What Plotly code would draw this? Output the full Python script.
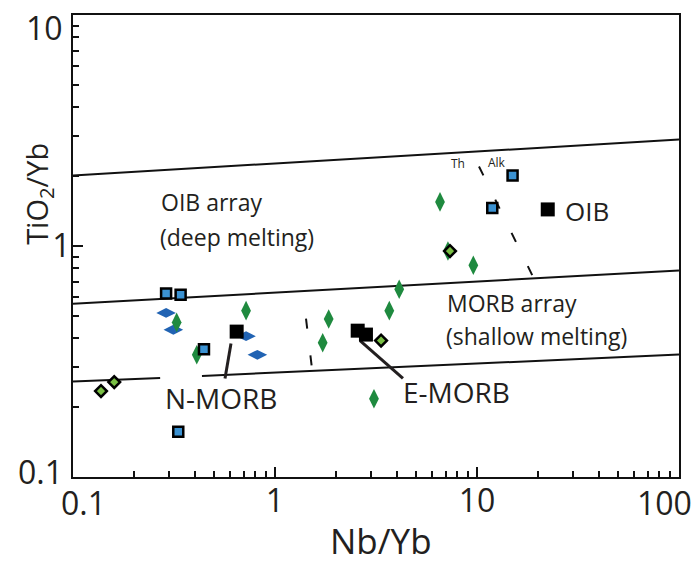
import math
import plotly.graph_objects as go

# ---------------- data ----------------
blue_sq_x = [0.289, 0.341, 0.445, 0.332, 15.0, 11.9]
blue_sq_y = [0.623, 0.615, 0.357, 0.157, 2.02, 1.46]

blue_dia_x = [0.289, 0.314, 0.719, 0.818]
blue_dia_y = [0.513, 0.434, 0.407, 0.338]

green_dia_x = [0.326, 0.410, 0.719, 1.844, 1.722, 3.68, 4.12, 3.09, 6.56, 9.59, 7.18]
green_dia_y = [0.467, 0.338, 0.525, 0.483, 0.381, 0.525, 0.650, 0.218, 1.552, 0.826, 0.952]

lgreen_dia_x = [0.1376, 0.160, 3.35, 7.35]
lgreen_dia_y = [0.2355, 0.2575, 0.3895, 0.951]

ref_x = [0.646, 2.567, 2.82, 22.4]
ref_y = [0.426, 0.430, 0.4135, 1.44]

# array boundaries
upper_x = [0.1, 100]
upper_y = [2.02, 2.89]
middle_x = [0.1, 100]
middle_y = [0.562, 0.784]
lower1_x = [0.1, 0.27]
lower1_y = [0.259, 0.268]
lower2_x = [0.435, 100]
lower2_y = [0.274, 0.339]

# Th / Alk boundaries (dashed)
dash1_x = [10.23, 19.15]
dash1_y = [2.21, 0.721]
dash2_x = [1.424, 1.524]
dash2_y = [0.4845, 0.295]

# label pointers
nmorb_ptr_x = [0.6055, 0.5655]
nmorb_ptr_y = [0.378, 0.267]
emorb_ptr_x = [2.635, 4.30]
emorb_ptr_y = [0.3895, 0.267]

x_tickvals = [1, 10]
x_ticktext = ["1", "10"]
y_tickvals = [1]
y_ticktext = ["1"]
minor_x = [m * d for d in (0.1, 1, 10) for m in range(2, 10)]
minor_y = [m * d for d in (0.1, 1) for m in range(2, 10)]

TXT = "#231f20"
FONT = "Open Sans"

fig = go.Figure()

line_style = dict(color="#111111", width=2)
for xs, ys in [(upper_x, upper_y), (middle_x, middle_y), (lower1_x, lower1_y), (lower2_x, lower2_y)]:
    fig.add_trace(go.Scatter(x=xs, y=ys, mode="lines", line=line_style, hoverinfo="skip"))

for xs, ys in [(dash1_x, dash1_y), (dash2_x, dash2_y)]:
    fig.add_trace(go.Scatter(x=xs, y=ys, mode="lines",
                             line=dict(color="#111111", width=2, dash="10px,27px"), hoverinfo="skip"))

for xs, ys in [(nmorb_ptr_x, nmorb_ptr_y), (emorb_ptr_x, emorb_ptr_y)]:
    fig.add_trace(go.Scatter(x=xs, y=ys, mode="lines", line=dict(color=TXT, width=3), hoverinfo="skip"))

fig.add_trace(go.Scatter(x=blue_dia_x, y=blue_dia_y, mode="markers",
                         marker=dict(symbol="diamond-wide", size=14, color="#2163b3", line=dict(width=0))))
fig.add_trace(go.Scatter(x=green_dia_x, y=green_dia_y, mode="markers",
                         marker=dict(symbol="diamond-tall", size=14, color="#1f8a3f", line=dict(width=0))))
fig.add_trace(go.Scatter(x=lgreen_dia_x, y=lgreen_dia_y, mode="markers",
                         marker=dict(symbol="diamond", size=9, color="#79bf44", line=dict(width=2.5, color="#000000"))))
fig.add_trace(go.Scatter(x=blue_sq_x, y=blue_sq_y, mode="markers",
                         marker=dict(symbol="square", size=10, color="#3b92d2", line=dict(width=2.5, color="#000000"))))
fig.add_trace(go.Scatter(x=ref_x, y=ref_y, mode="markers",
                         marker=dict(symbol="square", size=14, color="#000000", line=dict(width=0))))

def ann(text, x, y, size, xanchor="left"):
    fig.add_annotation(x=math.log10(x), y=math.log10(y), xref="x", yref="y", text=text,
                       showarrow=False, xanchor=xanchor, yanchor="middle",
                       font=dict(family=FONT, size=size, color=TXT))

ann("OIB array", 0.265, 1.548, 23)
ann("(deep melting)", 0.262, 1.094, 23)
ann("MORB array", 6.94, 0.568, 23)
ann("(shallow melting)", 6.85, 0.409, 23)
ann("N-MORB", 0.279, 0.219, 28)
ann("E-MORB", 4.205, 0.2325, 28)
ann("OIB", 26.7, 1.415, 26)
ann("Th", 8.05, 2.279, 12, "center")
ann("Alk", 12.56, 2.30, 12, "center")

def pann(text, x, y, size, xanchor="center", angle=0):
    fig.add_annotation(x=x, y=y, xref="paper", yref="paper", text=text, showarrow=False,
                       xanchor=xanchor, yanchor="middle", textangle=angle,
                       font=dict(family=FONT, size=size, color=TXT))

# end-of-axis tick labels (offset inward as in the reference)
pann("0.1", 0.0173, -0.056, 32)
pann("100", 0.976, -0.056, 32)
pann("10", -0.0132, 0.972, 32, "right")
pann("0.1", -0.0132, 0.0129, 32, "right")

# axis titles
pann("Nb/Yb", 0.508, -0.137, 35)
pann("TiO<sub>2</sub>/Yb", -0.056, 0.613, 29, angle=-90)

axis_common = dict(type="log", showgrid=False, zeroline=False, showline=True, linecolor="#111111",
                   linewidth=2, mirror=True, ticks="inside", ticklen=10, tickwidth=2, tickcolor="#111111",
                   tickfont=dict(family=FONT, size=32, color=TXT))
fig.update_xaxes(range=[-1, 2], tickmode="array", tickvals=x_tickvals, ticktext=x_ticktext,
                 ticklabelstandoff=-5,
                 minor=dict(tickmode="array", tickvals=minor_x, ticks="inside", ticklen=6,
                            tickwidth=2, tickcolor="#111111", showgrid=False),
                 **axis_common)
fig.update_yaxes(range=[-1, 1], tickmode="array", tickvals=y_tickvals, ticktext=y_ticktext,
                 ticklabelstandoff=-6,
                 minor=dict(tickmode="array", tickvals=minor_y, ticks="inside", ticklen=6,
                            tickwidth=2, tickcolor="#111111", showgrid=False),
                 **axis_common)

# page body has an 8px default margin: size the figure so the plot area lands at the reference position
fig.update_layout(width=691, height=554, margin=dict(l=65, r=20, t=5, b=85),
                  plot_bgcolor="white", paper_bgcolor="white", showlegend=False)

fig.write_html("out.html")
